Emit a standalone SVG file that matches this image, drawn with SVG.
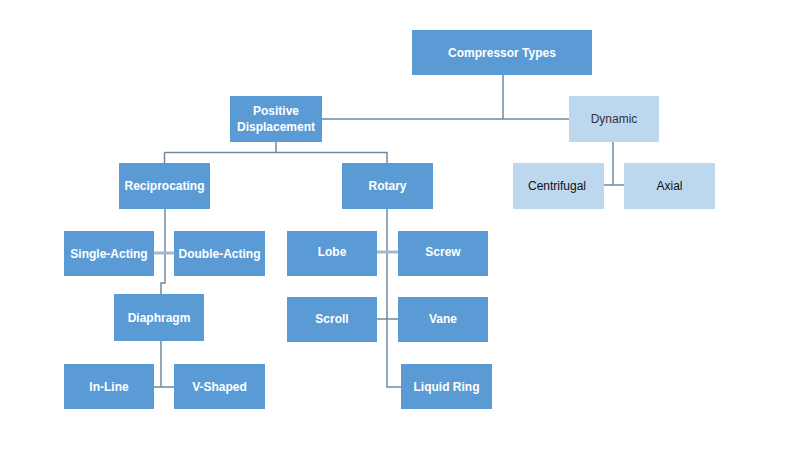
<svg xmlns="http://www.w3.org/2000/svg" width="785" height="449" viewBox="0 0 785 449">
<style>
.d rect{fill:#5b9bd5}
.l rect{fill:#bdd7ee}
.d text{fill:#ffffff;font-family:"Liberation Sans",Arial,sans-serif;font-size:12px;font-weight:bold;text-anchor:middle;dominant-baseline:central}
.l text{fill:#333333;font-family:"Liberation Sans",Arial,sans-serif;font-size:12px;text-anchor:middle;dominant-baseline:central}
.c path{fill:none;stroke:#6f8aa0;stroke-width:1.5}
.c path.t{stroke:#a9b8c6;stroke-width:3}
</style>
<rect width="785" height="449" fill="#ffffff"/>
<g id="connectors" class="c">
<path d="M503 75V119M322 119H569"/>
<path d="M276 142V152.5M164.5 152.5H387V163M164.5 152.5V163"/>
<path d="M613 142V185M604 185H624"/>
<path d="M165 209V283H161V294"/>
<path class="t" d="M154 253H174"/>
<path d="M161 341V387H174M154 387H161"/>
<path d="M387 209V387H401"/>
<path class="t" d="M377 252H398"/>
<path d="M377 319H398"/>
</g>
<g id="compressor-types" class="d"><rect x="412" y="30" width="180" height="45"/><text x="502" y="52.5">Compressor Types</text></g>
<g id="positive-displacement" class="d"><rect x="230" y="96" width="92" height="46"/><text x="276" y="111">Positive</text><text x="276" y="127">Displacement</text></g>
<g id="dynamic" class="l"><rect x="569" y="96" width="90" height="46"/><text x="614" y="119">Dynamic</text></g>
<g id="reciprocating" class="d"><rect x="119" y="163" width="91" height="46"/><text x="164.5" y="186">Reciprocating</text></g>
<g id="rotary" class="d"><rect x="342" y="163" width="91" height="46"/><text x="387.5" y="186">Rotary</text></g>
<g id="centrifugal" class="l"><rect x="513" y="163" width="91" height="46"/><text x="557" y="186" style="fill:#111111">Centrifugal</text></g>
<g id="axial" class="l"><rect x="624" y="163" width="91" height="46"/><text x="669.5" y="186" style="fill:#111111">Axial</text></g>
<g id="single-acting" class="d"><rect x="64" y="231" width="90" height="45"/><text x="109" y="253.5">Single-Acting</text></g>
<g id="double-acting" class="d"><rect x="174" y="231" width="91" height="45"/><text x="219.5" y="253.5">Double-Acting</text></g>
<g id="diaphragm" class="d"><rect x="114" y="294" width="90" height="47"/><text x="159" y="317.5">Diaphragm</text></g>
<g id="in-line" class="d"><rect x="64" y="364" width="90" height="45"/><text x="109" y="386.5">In-Line</text></g>
<g id="v-shaped" class="d"><rect x="174" y="364" width="91" height="45"/><text x="219.5" y="386.5">V-Shaped</text></g>
<g id="lobe" class="d"><rect x="287" y="231" width="90" height="45"/><text x="332" y="252">Lobe</text></g>
<g id="screw" class="d"><rect x="398" y="231" width="90" height="45"/><text x="443" y="252">Screw</text></g>
<g id="scroll" class="d"><rect x="287" y="297" width="90" height="45"/><text x="332" y="318.5">Scroll</text></g>
<g id="vane" class="d"><rect x="398" y="297" width="90" height="45"/><text x="443" y="318.5">Vane</text></g>
<g id="liquid-ring" class="d"><rect x="401" y="364" width="91" height="45"/><text x="446.5" y="386.5">Liquid Ring</text></g>
</svg>
